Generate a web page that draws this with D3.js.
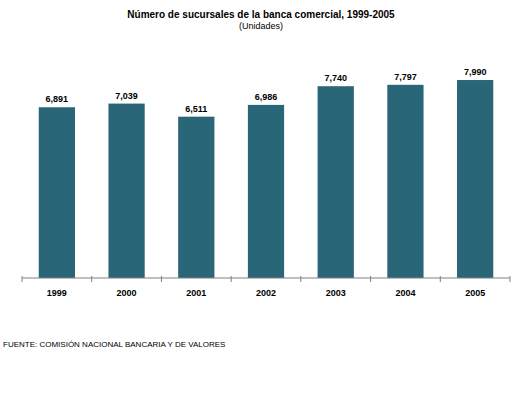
<!DOCTYPE html><html><head><meta charset="utf-8"><script src="https://cdn.jsdelivr.net/npm/d3@7"></script>
<style>body{margin:0;background:#fff}text{font-family:Arial,"Liberation Sans",sans-serif}</style></head><body><svg width="520" height="400"></svg>
<script>
const years=["1999","2000","2001","2002","2003","2004","2005"];
const values=[6891,7039,6511,6986,7740,7797,7990];
const svg=d3.select("svg");
const x=d3.scaleBand().domain(years).range([22,510]).paddingInner(0.48).paddingOuter(0.24);
const y=d3.scaleLinear().domain([0,9000]).range([278,55]);
svg.append("text").attr("x",261).attr("y",18).attr("text-anchor","middle").attr("font-size",10).attr("font-weight","bold").text("Número de sucursales de la banca comercial, 1999-2005");
svg.append("text").attr("x",261).attr("y",29).attr("text-anchor","middle").attr("font-size",9).text("(Unidades)");
svg.selectAll("rect").data(values).join("rect").attr("x",(d,i)=>x(years[i])).attr("width",x.bandwidth()).attr("y",d=>y(d)).attr("height",d=>y(0)-y(d)).attr("fill","#296677");
svg.selectAll(".lab").data(values).join("text").attr("x",(d,i)=>x(years[i])+x.bandwidth()/2).attr("y",d=>y(d)-5).attr("text-anchor","middle").attr("font-size",9).attr("font-weight","bold").text(d=>d3.format(",")(d));
svg.append("line").attr("x1",22).attr("x2",510).attr("y1",278).attr("y2",278).attr("stroke","#808080");
const step=x.step();
for(let i=0;i<=7;i++){const xx=22+i*(488/7);svg.append("line").attr("x1",xx).attr("x2",xx).attr("y1",276).attr("y2",282).attr("stroke","#808080");}
svg.selectAll(".yl").data(years).join("text").attr("x",d=>x(d)+x.bandwidth()/2).attr("y",296).attr("text-anchor","middle").attr("font-size",9).attr("font-weight","bold").text(d=>d);
svg.append("text").attr("x",3).attr("y",347).attr("font-size",8).text("FUENTE: COMISIÓN NACIONAL BANCARIA Y DE VALORES");
</script></body></html>
